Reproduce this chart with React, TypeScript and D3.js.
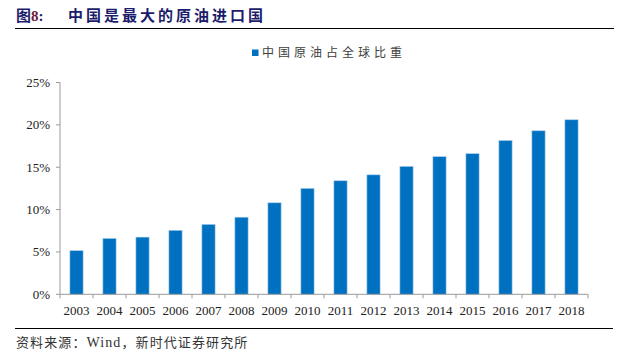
import React from "react";
import * as d3 from "d3";

const years = ["2003","2004","2005","2006","2007","2008","2009","2010","2011","2012","2013","2014","2015","2016","2017","2018"];
const shares = [5.15, 6.6, 6.75, 7.55, 8.25, 9.1, 10.8, 12.5, 13.4, 14.1, 15.1, 16.25, 16.6, 18.15, 19.3, 20.6];
const yTicks = [0, 5, 10, 15, 20, 25];
const seriesName = "中国原油占全球比重";

export default function App() {
  const W = 636, H = 363;
  const x0 = 60, x1 = 588, yTop = 82.5, yBot = 294.3;
  const x = d3.scaleBand<string>().domain(years).range([x0, x1]).paddingInner(0.6).paddingOuter(0.3);
  const xb = d3.scaleBand<string>().domain(years).range([x0, x1]);
  const y = d3.scaleLinear().domain([0, 25]).range([yBot, yTop]);
  const serif = "'Times New Roman', 'Liberation Serif', 'Noto Sans CJK SC', serif";
  return (
    <svg width={W} height={H} style={{ position: "absolute", left: 0, top: 0, background: "#fff" }}>
      <text x={16} y={21} fontFamily="'Liberation Serif', 'Noto Sans CJK SC', serif" fontWeight="bold" fontSize={15} fill="#1c1c6c">
        图<tspan fill="#6b1c3a">8</tspan>:
      </text>
      <text x={68} y={21} fontFamily="'Noto Sans CJK SC', sans-serif" fontWeight="bold" fontSize={15} letterSpacing={3} fill="#1c1c6c">
        中国是最大的原油进口国
      </text>
      <line x1={15} x2={614} y1={28.5} y2={28.5} stroke="#000" strokeWidth={1.2} />

      <rect x={252} y={49.5} width={6.5} height={6.5} fill="#0070C0" />
      <text x={262} y={57} fontFamily="'Noto Sans CJK SC', sans-serif" fontSize={12} letterSpacing={4} fill="#404040">{seriesName}</text>

      {yTicks.map(t => (
        <g key={t}>
          <line x1={x0 - 4} x2={x0} y1={y(t)} y2={y(t)} stroke="#9a9a9a" />
          <text x={50} y={y(t) + 4.5} textAnchor="end" fontFamily={serif} fontSize={13} fill="#222">{t}%</text>
        </g>
      ))}
      <line x1={x0} x2={x0} y1={yTop} y2={yBot} stroke="#9a9a9a" />

      {years.map((yr, i) => (
        <rect key={yr} x={x(yr)} y={y(shares[i])} width={x.bandwidth()} height={yBot - y(shares[i])}
          fill="#0070C0" stroke="#a9cdec" strokeWidth={0.6} />
      ))}

      <line x1={x0} x2={x1} y1={yBot} y2={yBot} stroke="#9a9a9a" />
      {[...years.map(yr => xb(yr) as number), x1].map((tx, i) => (
        <line key={i} x1={tx} x2={tx} y1={yBot} y2={yBot + 4} stroke="#9a9a9a" />
      ))}
      {years.map(yr => (
        <text key={yr} x={(xb(yr) as number) + xb.bandwidth() / 2} y={314.5} textAnchor="middle" fontFamily={serif} fontSize={13} fill="#222">{yr}</text>
      ))}

      <line x1={15} x2={613} y1={328.5} y2={328.5} stroke="#000" strokeWidth={1} />
      <text x={16} y={347} fontFamily="'Noto Sans CJK SC', sans-serif" fontSize={13} letterSpacing={1.1} fill="#333">
        资料来源：<tspan fontFamily={serif} fontSize={14}>Wind</tspan>，新时代证券研究所
      </text>
    </svg>
  );
}
